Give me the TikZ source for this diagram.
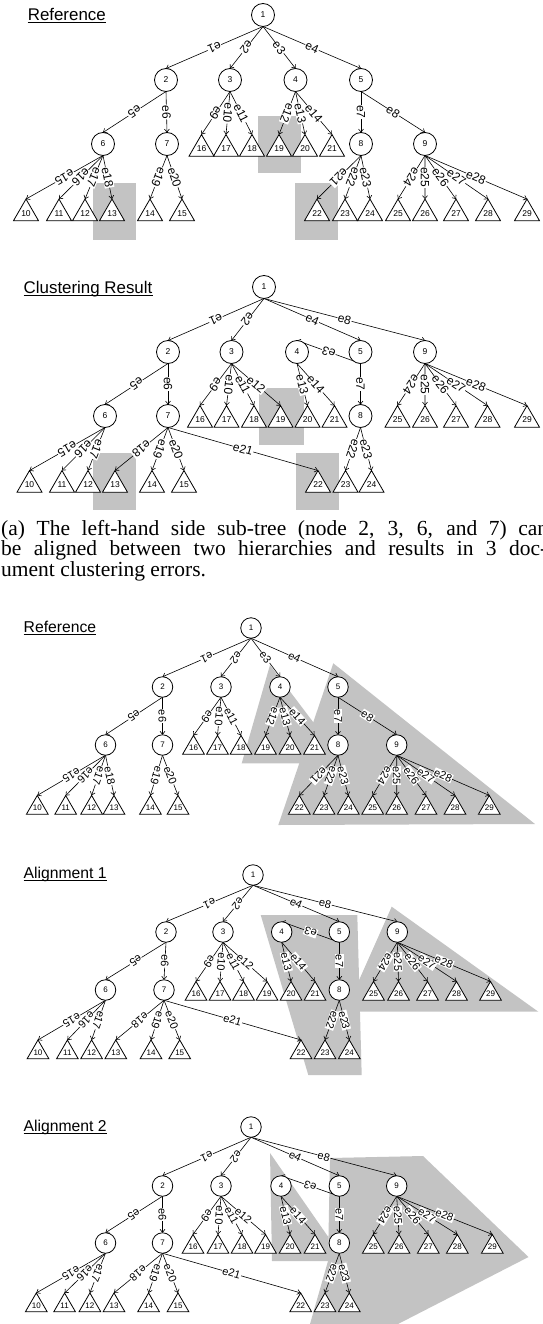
\documentclass[tikz,border=0pt]{standalone}
\usepackage{fontspec}
\setmainfont{Liberation Serif}
\setsansfont{Liberation Sans}
\usetikzlibrary{shapes.geometric,arrows.meta}
\pgfdeclarelayer{bg}
\pgfdeclarelayer{edges}
\pgfsetlayers{bg,edges,main}
\definecolor{shd}{RGB}{195,195,195}
\tikzset{
 circA/.style={circle, draw, line width=0.8pt, fill=white, minimum size=23pt, inner sep=0pt, outer sep=0pt, font=\sffamily\fontsize{8.5}{9}\selectfont},
 triA/.style={regular polygon, regular polygon sides=3, draw, line width=0.8pt, fill=white, minimum size=28.9pt, inner sep=0pt, outer sep=0pt, font=\sffamily\fontsize{8.5}{9}\selectfont},
 circB/.style={circle, draw, line width=0.8pt, fill=white, minimum size=20.5pt, inner sep=0pt, outer sep=0pt, font=\sffamily\fontsize{8}{9}\selectfont},
 triB/.style={regular polygon, regular polygon sides=3, draw, line width=0.8pt, fill=white, minimum size=25pt, inner sep=0pt, outer sep=0pt, font=\sffamily\fontsize{8}{9}\selectfont},
 edg/.style={draw, line width=0.6pt, -{Straight Barb[length=3pt,width=5pt]}},
 elab/.style={sloped, allow upside down, fill=white, inner sep=0.6pt, font=\sffamily\fontsize{12}{12}\selectfont},
 shade/.style={fill=shd, draw=none},
 ttlA/.style={anchor=base west, inner sep=0pt, font=\sffamily\fontsize{16.9}{18}\selectfont},
 ttlB/.style={anchor=base west, inner sep=0pt, font=\sffamily\fontsize{15.7}{17}\selectfont},
 uline/.style={line width=1.1pt},
 captxt/.style={anchor=base west, inner sep=0pt, font=\fontsize{21.5}{22}\selectfont}
}
\newcommand\myedge[3]{\path[edg] (#1.south) -- node[elab]{#3} (#2.north);}
\newcommand\edgesA[1]{%
 \myedge{#11}{#12}{e1}\myedge{#11}{#13}{e2}\myedge{#11}{#14}{e3}\myedge{#11}{#15}{e4}%
 \myedge{#12}{#16}{e5}\myedge{#12}{#17}{e6}\myedge{#15}{#18}{e7}\myedge{#15}{#19}{e8}%
 \myedge{#13}{#116}{e9}\myedge{#13}{#117}{e10}\myedge{#13}{#118}{e11}%
 \myedge{#14}{#119}{e12}\myedge{#14}{#120}{e13}\myedge{#14}{#121}{e14}%
 \myedge{#16}{#110}{e15}\myedge{#16}{#111}{e16}\myedge{#16}{#112}{e17}\myedge{#16}{#113}{e18}%
 \myedge{#17}{#114}{e19}\myedge{#17}{#115}{e20}%
 \myedge{#18}{#122}{e21}\myedge{#18}{#123}{e22}\myedge{#18}{#124}{e23}%
 \myedge{#19}{#125}{e24}\myedge{#19}{#126}{e25}\myedge{#19}{#127}{e26}\myedge{#19}{#128}{e27}\myedge{#19}{#129}{e28}}
\newcommand\edgesB[1]{%
 \myedge{#11}{#12}{e1}\myedge{#11}{#13}{e2}\myedge{#11}{#15}{e4}\myedge{#11}{#19}{e8}%
 \myedge{#15}{#14}{e3}%
 \myedge{#12}{#16}{e5}\myedge{#12}{#17}{e6}\myedge{#15}{#18}{e7}%
 \myedge{#13}{#116}{e9}\myedge{#13}{#117}{e10}\myedge{#13}{#118}{e11}\myedge{#13}{#119}{e12}%
 \myedge{#14}{#120}{e13}\myedge{#14}{#121}{e14}%
 \myedge{#16}{#110}{e15}\myedge{#16}{#111}{e16}\myedge{#16}{#112}{e17}%
 \myedge{#17}{#113}{e18}\myedge{#17}{#114}{e19}\myedge{#17}{#115}{e20}\myedge{#17}{#122}{e21}%
 \myedge{#18}{#123}{e22}\myedge{#18}{#124}{e23}%
 \myedge{#19}{#125}{e24}\myedge{#19}{#126}{e25}\myedge{#19}{#127}{e26}\myedge{#19}{#128}{e27}\myedge{#19}{#129}{e28}}
\begin{document}
\begin{tikzpicture}[x=1pt,y=-1pt]
\useasboundingbox (0,0) rectangle (542,1324);

% ================= Panel 1 =================
\node[ttlA] (t1) at (27.6,20.7) {Reference};
\draw[uline] ([yshift=-2.2pt]t1.base west) -- ([yshift=-2.2pt]t1.base east);
\foreach \n/\x/\y in {1/263/15,2/166/80,3/230/80,4/295.5/80,5/361/80,6/103/144,7/167/144,8/361/144,9/425/144}
  \node[circA] (a\n) at (\x,\y) {\n};
\foreach \n/\x in {16/201.5,17/226,18/252,19/279,20/305,21/332}
  \node[triA] (a\n) at (\x,149) {\n};
\foreach \n/\x in {10/26,11/59,12/85,13/112,14/150,15/182,22/317,23/345,24/370,25/398,26/425,27/456,28/488,29/527}
  \node[triA] (a\n) at (\x,213.5) {\n};
\begin{pgfonlayer}{bg}
 \fill[shade] (93.3,182.7) rectangle (135.5,240);
 \fill[shade] (258,116) rectangle (300.7,173.3);
 \fill[shade] (294.5,182.7) rectangle (338,240);
\end{pgfonlayer}
\begin{pgfonlayer}{edges}\edgesA{a}\end{pgfonlayer}

% ================= Panel 2 =================
\node[ttlA] (t2) at (23.5,293.3) {Clustering Result};
\draw[uline] ([yshift=-2.2pt]t2.base west) -- ([yshift=-2.2pt]t2.base east);
\foreach \n/\x/\y in {1/264/287,2/168/352,3/231.5/352,4/297/352,5/360.5/352,9/425/352,6/105/416,7/168/416,8/360.5/416}
  \node[circA] (b\n) at (\x,\y) {\n};
\foreach \n/\x in {16/200,17/226.5,18/254,19/280.5,20/307.5,21/334.5,25/397.5,26/425,27/456,28/487.5,29/527}
  \node[triA] (b\n) at (\x,420) {\n};
\foreach \n/\x in {10/29.5,11/62,12/88,13/115,14/152,15/184,22/318,23/345.5,24/371.5}
  \node[triA] (b\n) at (\x,485) {\n};
\begin{pgfonlayer}{bg}
 \fill[shade] (92.6,453.3) rectangle (135.5,510);
 \fill[shade] (259.3,388.3) rectangle (303.5,445);
 \fill[shade] (296.2,453.3) rectangle (339.4,510);
\end{pgfonlayer}
\begin{pgfonlayer}{edges}\edgesB{b}\end{pgfonlayer}

% ================= Caption =================
\node[captxt] (cap1) at (1,535) {\makebox[547pt][s]{(a) The left-hand side sub-tree (node 2, 3, 6, and 7) can}};
\node[captxt] (cap2) at (1,555.5) {\makebox[546pt][s]{be aligned between two hierarchies and results in 3 doc-}};
\node[captxt] (cap3) at (1,576) {ument clustering errors.};

% ================= Panel 3 =================
\begin{scope}[elab/.append style={font=\sffamily\fontsize{11}{11}\selectfont}]
\node[ttlB] (t3) at (23.5,632) {Reference};
\draw[uline] ([yshift=-2.1pt]t3.base west) -- ([yshift=-2.1pt]t3.base east);
\foreach \n/\x/\y in {1/251/628,2/162.5/687,3/221/687,4/280/687,5/338/687,6/105.5/745,7/162.5/745,8/338/745,9/396.7/745}
  \node[circB] (c\n) at (\x,\y) {\n};
\foreach \n/\x in {16/193.5,17/217.5,18/241,19/265.5,20/290,21/314.5}
  \node[triB] (c\n) at (\x,748) {\n};
\foreach \n/\x in {10/37.3,11/65.7,12/91.6,13/114,14/150.4,15/178,22/299.3,23/324,24/348.3,25/372.7,26/396.7,27/426,28/455,29/489.3}
  \node[triB] (c\n) at (\x,808) {\n};
\begin{pgfonlayer}{bg}
 \fill[shade] (270,665) -- (241.7,763.3) -- (344.3,763.3) -- cycle;
 \fill[shade] (333.3,663.3) -- (278.3,825) -- (535,824) -- cycle;
\end{pgfonlayer}
\begin{pgfonlayer}{edges}\edgesA{c}\end{pgfonlayer}

% ================= Panel 4 =================
\node[ttlB] (t4) at (23.5,878.3) {Alignment 1};
\draw[uline] ([yshift=-2.1pt]t4.base west) -- ([yshift=-2.1pt]t4.base east);
\foreach \n/\x/\y in {1/253/875,2/166/932,3/223/932,4/281.7/932,5/339.3/932,9/397.3/932,6/105.5/990,7/164/990,8/339.3/990}
  \node[circB] (d\n) at (\x,\y) {\n};
\foreach \n/\x in {16/196,17/220,18/243.5,19/267,20/291,21/315,25/373.5,26/398.5,27/427.5,28/456.5,29/490.5}
  \node[triB] (d\n) at (\x,994) {\n};
\foreach \n/\x in {10/38,11/67.4,12/91.6,13/115.8,14/151,15/179.7,22/301,23/325,24/349.3}
  \node[triB] (d\n) at (\x,1052.5) {\n};
\begin{pgfonlayer}{bg}
 \fill[shade] (260.7,915) -- (357.3,915) -- (361.7,1075) -- (308.3,1075) -- cycle;
 \fill[shade] (391.7,906.7) -- (538.3,1011.7) -- (345,1011.7) -- cycle;
\end{pgfonlayer}
\begin{pgfonlayer}{edges}\edgesB{d}\end{pgfonlayer}

% ================= Panel 5 =================
\node[ttlB] (t5) at (23.5,1131.7) {Alignment 2};
\draw[uline] ([yshift=-2.1pt]t5.base west) -- ([yshift=-2.1pt]t5.base east);
\foreach \n/\x/\y in {1/251/1127,2/162.5/1186,3/221/1186,4/281/1186,5/339.3/1186,9/396.7/1186,6/105.5/1243,7/162.5/1243,8/339.3/1243}
  \node[circB] (e\n) at (\x,\y) {\n};
\foreach \n/\x in {16/193,17/218,18/242,19/265.5,20/290,21/315,25/373.3,26/399,27/428.3,28/457.3,29/492.3}
  \node[triB] (e\n) at (\x,1247) {\n};
\foreach \n/\x in {10/36.3,11/64.6,12/89.9,13/114,14/148.6,15/178,22/300.7,23/325,24/349.3}
  \node[triB] (e\n) at (\x,1305.5) {\n};
\begin{pgfonlayer}{bg}
 \fill[shade] (270,1153) -- (328.3,1237) -- (328.3,1261) -- (272,1261) -- cycle;
 \fill[shade] (330,1158) -- (423,1156) -- (528.5,1257) -- (398,1324) -- (310,1324) -- (328,1261) -- cycle;
\end{pgfonlayer}
\begin{pgfonlayer}{edges}\edgesB{e}\end{pgfonlayer}
\end{scope}
\end{tikzpicture}
\end{document}
